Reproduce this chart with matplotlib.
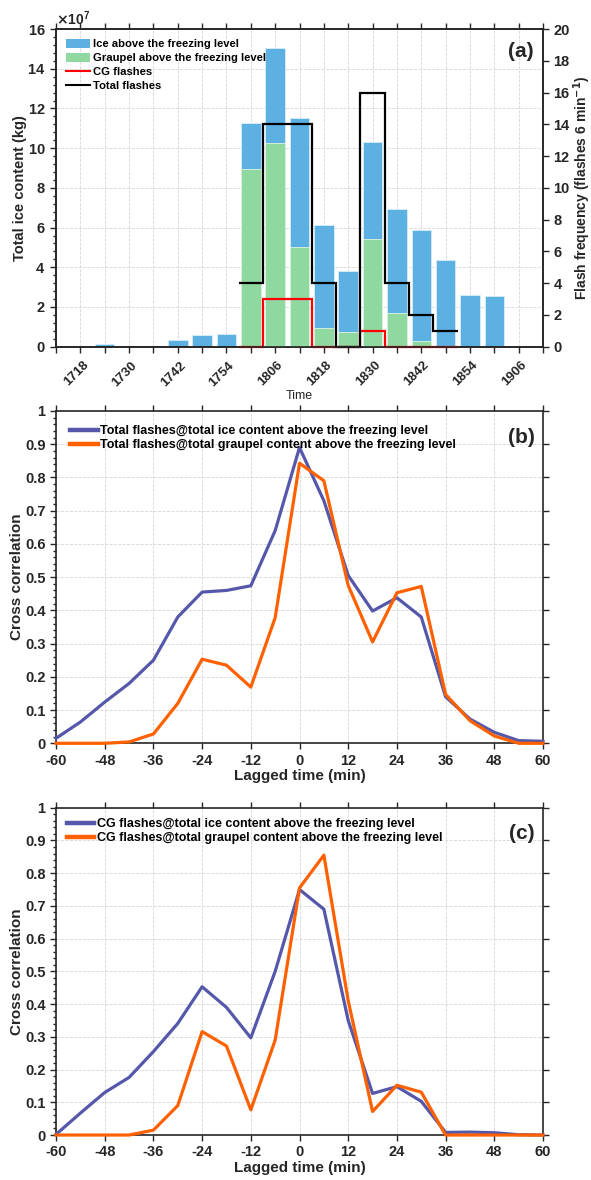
import numpy as np
import matplotlib
matplotlib.use("Agg")
from matplotlib import pyplot as plt
from matplotlib import transforms
from matplotlib.patches import Patch
from matplotlib.lines import Line2D
from matplotlib.ticker import MultipleLocator, ScalarFormatter, FuncFormatter

plt.rcParams['font.family'] = ['Liberation Sans', 'DejaVu Sans']
plt.rcParams['font.weight'] = 'bold'
plt.rcParams['axes.labelweight'] = 'bold'
plt.rcParams['axes.unicode_minus'] = False

# ---- panel (a) data ----
times = ['1718', '1724', '1730', '1736', '1742', '1748', '1754', '1800', '1806', '1812',
         '1818', '1824', '1830', '1836', '1842', '1848', '1854', '1900', '1906']
tick_labels = ['1718', '1730', '1742', '1754', '1806', '1818', '1830', '1842', '1854', '1906']
ice_1e7 = [0.03, 0.12, 0.03, 0.01, 0.34, 0.57, 0.62, 11.25, 15.05, 11.52,
           6.14, 3.8, 10.3, 6.92, 5.86, 4.38, 2.61, 2.54, 0.0]
graupel_1e7 = [0, 0, 0, 0, 0, 0, 0, 8.93, 10.25, 5.0,
               0.96, 0.72, 5.44, 1.72, 0.29, 0.02, 0, 0, 0]
flash_times = ['1800', '1806', '1812', '1818', '1824', '1830', '1836', '1842', '1848']
total_flashes = [4, 14, 14, 4, 0, 16, 4, 2, 1]
cg_flashes = [0, 3, 3, 0, 0, 1, 0, 0, 0]

# ---- panels (b), (c) data ----
lag = [-60, -54, -48, -42, -36, -30, -24, -18, -12, -6, 0, 6, 12, 18, 24, 30, 36, 42, 48, 54, 60]
b_ice = [0.015, 0.064, 0.124, 0.18, 0.25, 0.38, 0.455, 0.46, 0.474, 0.64, 0.89,
         0.73, 0.505, 0.398, 0.438, 0.38, 0.14, 0.073, 0.033, 0.008, 0.006]
b_grp = [0, 0, 0, 0.004, 0.028, 0.12, 0.253, 0.235, 0.169, 0.378, 0.843,
         0.79, 0.475, 0.305, 0.453, 0.472, 0.147, 0.068, 0.022, 0.0, 0.0]
c_ice = [0.002, 0.067, 0.13, 0.176, 0.255, 0.341, 0.453, 0.39, 0.297, 0.50, 0.75,
         0.69, 0.35, 0.127, 0.148, 0.103, 0.008, 0.009, 0.007, 0.001, 0.0]
c_grp = [0, 0, 0, 0, 0.015, 0.09, 0.316, 0.272, 0.077, 0.29, 0.755,
         0.855, 0.41, 0.072, 0.152, 0.131, 0, 0, 0, 0, 0]

ICE_C = '#5DB1E2'
GRP_C = '#8FD8A0'
BLUE = '#5558AA'
ORANGE = '#FF6000'
DARK = '#262626'

fig = plt.figure(figsize=(5.91, 11.8), dpi=100)


def style_axis(ax):
    for s in ax.spines.values():
        s.set_linewidth(1.2)
        s.set_color(DARK)
    ax.tick_params(which='both', direction='out', colors=DARK, labelsize=10.5, width=1.0)
    ax.tick_params(which='major', length=4)
    ax.tick_params(which='minor', length=2)
    ax.grid(True, ls='--', color='#d6d6d6', lw=0.6)
    ax.set_axisbelow(True)


# ---------------- (a) ----------------
ax1 = fig.add_axes([0.0948, 0.7062, 0.824, 0.2692])
style_axis(ax1)
pos = np.arange(1, len(times) + 1)
ice_kg = np.array(ice_1e7) * 1e7
grp_kg = np.array(graupel_1e7) * 1e7
ax1.bar(pos, ice_kg, width=0.8, color=ICE_C, edgecolor='#d8eef9', lw=0.6, zorder=2)
ax1.bar(pos, grp_kg, width=0.8, color=GRP_C, edgecolor='#dff5e5', lw=0.6, zorder=3)
ax1.set_xlim(0, len(times) + 1)
ax1.set_ylim(0, 16e7)
ax1.set_xticks(np.arange(0, len(times) + 2))
labs = [''] * (len(times) + 2)
for t in tick_labels:
    labs[times.index(t) + 1] = t
ax1.set_xticklabels(labs, rotation=45, ha='right', va='center', rotation_mode='anchor',
                    fontsize=9.5)
ax1.tick_params(axis='x', pad=8)
shift = transforms.ScaledTranslation(0.06, 0.0, fig.dpi_scale_trans)
for lab in ax1.get_xticklabels():
    lab.set_transform(lab.get_transform() + shift)
ax1.yaxis.set_major_locator(MultipleLocator(2e7))
ax1.yaxis.set_minor_locator(MultipleLocator(0.4e7))
fmt = ScalarFormatter(useMathText=True)
fmt.set_powerlimits((7, 7))
ax1.yaxis.set_major_formatter(fmt)
ax1.yaxis.get_offset_text().set_fontsize(10)
ax1.yaxis.get_offset_text().set_fontweight('bold')
ax1.tick_params(top=True, right=False)
ax1.set_xlabel('Time', fontsize=9, fontweight='normal', color=DARK, labelpad=1)
ax1.set_ylabel('Total ice content (kg)', fontsize=10.5, color=DARK, labelpad=0)

ax2 = ax1.twinx()
for s in ax2.spines.values():
    s.set_linewidth(1.2)
    s.set_color(DARK)
ax2.set_ylim(0, 20)
ax2.set_yticks(np.arange(0, 21, 2))
ax2.tick_params(direction='out', colors=DARK, labelsize=10.5, length=4, width=1.0)
fpos = np.array([times.index(t) + 1 for t in flash_times])
edges = np.append(fpos - 0.5, fpos[-1] + 0.5)
ax2.stairs(cg_flashes, edges, baseline=None, color='#FF0000', lw=1.6, clip_on=False)
ax2.stairs(total_flashes, edges, baseline=None, color='black', lw=1.6, clip_on=False)
ax2.set_ylabel('Flash frequency (flashes 6 min$^{\\mathbf{-1}}$)', fontsize=10, color=DARK, labelpad=1)
handles = [Patch(facecolor=ICE_C, edgecolor='none'), Patch(facecolor=GRP_C, edgecolor='none'),
           Line2D([], [], color='#FF0000', lw=1.5), Line2D([], [], color='black', lw=1.5)]
ax2.legend(handles, ['Ice above the freezing level', 'Graupel above the freezing level',
                     'CG flashes', 'Total flashes'],
           loc='upper left', frameon=False, fontsize=8.1, handlelength=2.2, handleheight=0.9,
           handletextpad=0.2, labelspacing=0.3, borderaxespad=0.45)
ax2.text(0.98, 0.96, '(a)', transform=ax2.transAxes, ha='right', va='top',
         fontsize=15, fontweight='bold', color=DARK)


# ---------------- (b), (c) ----------------
def corr_panel(rect, ice, grp, who, tag, legpad):
    ax = fig.add_axes(rect)
    style_axis(ax)
    ax.plot(lag, ice, color=BLUE, lw=2.3, clip_on=False, zorder=3,
            label=who + '@total ice content above the freezing level')
    ax.plot(lag, grp, color=ORANGE, lw=2.3, clip_on=False, zorder=4,
            label=who + '@total graupel content above the freezing level')
    ax.set_xlim(-60, 60)
    ax.set_ylim(0, 1)
    ax.set_xticks(np.arange(-60, 61, 12))
    ax.yaxis.set_major_locator(MultipleLocator(0.1))
    ax.yaxis.set_minor_locator(MultipleLocator(0.02))
    ax.yaxis.set_major_formatter(FuncFormatter(lambda v, p: '%g' % round(v, 2)))
    ax.tick_params(top=True, right=True)
    ax.set_xlabel('Lagged time (min)', fontsize=11, color=DARK, labelpad=1)
    ax.set_ylabel('Cross correlation', fontsize=11, color=DARK, labelpad=1)
    leg = ax.legend(loc='upper left', frameon=False, fontsize=9, handlelength=2.2,
                    handletextpad=0.2, labelspacing=0.15, borderaxespad=legpad)
    for ln in leg.get_lines():
        ln.set_linewidth(3.2)
    ax.text(0.983, 0.95, tag, transform=ax.transAxes, ha='right', va='top',
            fontsize=15, fontweight='bold', color=DARK)
    return ax


corr_panel([0.0948, 0.3701, 0.824, 0.2816], b_ice, b_grp, 'Total flashes', '(b)', 0.75)
corr_panel([0.0948, 0.0381, 0.824, 0.2774], c_ice, c_grp, 'CG flashes', '(c)', 0.45)

fig.savefig('out.png', dpi=100)
